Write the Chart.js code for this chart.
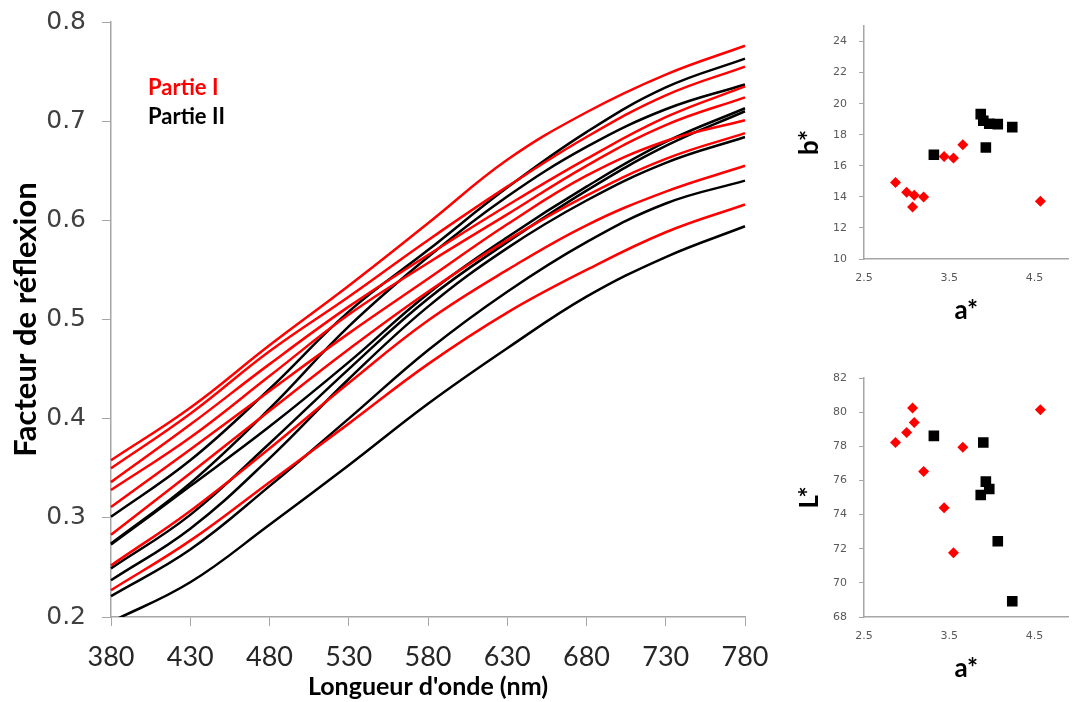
<!DOCTYPE html>
<html>
<head>
<meta charset="utf-8">
<script src="https://cdn.jsdelivr.net/npm/chart.js@4/dist/chart.umd.min.js"></script>
<style>
  html, body { margin: 0; padding: 0; background: #fff; }
  body { width: 1076px; height: 702px; position: relative; overflow: hidden; }
  canvas { position: absolute; }
  #legende { position: absolute; left: 148px; top: 72px; font: bold 22px Lato, sans-serif; line-height: 29px; }
</style>
</head>
<body>
<canvas id="spectres" width="780" height="702" style="left:0;top:0"></canvas>
<canvas id="ab" width="286" height="330" style="left:790px;top:0"></canvas>
<canvas id="aL" width="286" height="362" style="left:790px;top:340px"></canvas>
<div id="legende">
  <div style="color:#ff0000">Partie I</div>
  <div style="color:#000">Partie II</div>
</div>
<script>
// longueurs d'onde (nm)
const longueurs = [380, 430, 480, 530, 580, 630, 680, 730, 780];

// facteur de réflexion - Partie I (rouge)
const partieI_1 = [0.358, 0.411, 0.474, 0.534, 0.597, 0.661, 0.709, 0.747, 0.776];
const partieI_2 = [0.350, 0.405, 0.468, 0.523, 0.580, 0.634, 0.684, 0.726, 0.755];
const partieI_3 = [0.336, 0.394, 0.455, 0.513, 0.565, 0.615, 0.662, 0.704, 0.735];
const partieI_4 = [0.328, 0.381, 0.443, 0.505, 0.557, 0.606, 0.655, 0.696, 0.724];
const partieI_5 = [0.311, 0.369, 0.428, 0.486, 0.541, 0.596, 0.645, 0.680, 0.701];
const partieI_6 = [0.283, 0.345, 0.408, 0.470, 0.528, 0.580, 0.625, 0.662, 0.688];
const partieI_7 = [0.252, 0.307, 0.370, 0.436, 0.499, 0.550, 0.595, 0.629, 0.655];
const partieI_8 = [0.227, 0.277, 0.336, 0.395, 0.455, 0.507, 0.550, 0.588, 0.616];

// facteur de réflexion - Partie II (noir)
const partieII_1 = [0.301, 0.358, 0.430, 0.508, 0.570, 0.633, 0.689, 0.734, 0.763];
const partieII_2 = [0.274, 0.335, 0.410, 0.493, 0.563, 0.624, 0.674, 0.712, 0.737];
const partieII_3 = [0.273, 0.332, 0.392, 0.457, 0.526, 0.583, 0.634, 0.679, 0.713];
const partieII_4 = [0.249, 0.303, 0.375, 0.450, 0.521, 0.578, 0.630, 0.675, 0.710];
const partieII_5 = [0.237, 0.289, 0.360, 0.440, 0.513, 0.572, 0.620, 0.658, 0.684];
const partieII_6 = [0.221, 0.268, 0.332, 0.400, 0.469, 0.528, 0.578, 0.617, 0.640];
const partieII_7 = [0.195, 0.235, 0.293, 0.353, 0.415, 0.471, 0.523, 0.563, 0.594];

// coordonnées CIELAB
const aPartieI  = [2.87, 3.00, 3.07, 3.09, 3.20, 3.44, 3.55, 3.66, 4.57];
const bPartieI  = [14.93, 14.29, 13.35, 14.10, 13.99, 16.60, 16.50, 17.35, 13.71];
const LPartieI  = [78.22, 78.81, 80.24, 79.40, 76.52, 74.40, 71.76, 77.95, 80.14];
const aPartieII = [3.32, 3.87, 3.90, 3.93, 3.97, 4.07, 4.24];
const bPartieII = [16.71, 19.33, 18.90, 17.18, 18.71, 18.68, 18.49];
const LPartieII = [78.61, 75.15, 78.22, 75.93, 75.50, 72.44, 68.92];

const aTicks = [2.5, 3.5, 4.5];
const gris = '#a6a6a6';

const rouges = [partieI_1, partieI_2, partieI_3, partieI_4, partieI_5, partieI_6, partieI_7, partieI_8];
const noirs = [partieII_1, partieII_2, partieII_3, partieII_4, partieII_5, partieII_6, partieII_7];

function courbe(valeurs, couleur) {
  return {
    data: valeurs,
    borderColor: couleur,
    borderWidth: 2.5,
    pointRadius: 0,
    fill: false,
    tension: 0.4
  };
}

// la zone de tracé est fixée par layout.padding seulement
function fixeX(hauteur) {
  return s => { s.height = hauteur; s.paddingLeft = 0; s.paddingRight = 0; };
}
function fixeY(largeur) {
  return s => { s.width = largeur; s.paddingTop = 0; s.paddingBottom = 0; };
}

new Chart(document.getElementById('spectres'), {
  type: 'line',
  data: {
    labels: longueurs,
    datasets: [
      ...rouges.map(v => courbe(v, '#ff0000')),
      ...noirs.map(v => courbe(v, '#000000'))
    ]
  },
  options: {
    responsive: false,
    animation: false,
    layout: { padding: { top: 22, right: 35, bottom: 0, left: 0 } },
    plugins: { legend: { display: false }, tooltip: { enabled: false } },
    scales: {
      x: {
        grid: { drawOnChartArea: false, drawTicks: true, tickLength: 9, color: gris },
        border: { color: gris, width: 1.5 },
        ticks: { color: '#262626', font: { family: 'Lato', size: 27 }, padding: 15, maxRotation: 0, autoSkip: false },
        title: { display: true, text: "Longueur d'onde (nm)", color: '#000',
                 font: { family: 'Lato', size: 25, weight: 'bold' }, padding: { top: 0, bottom: 0 } },
        afterFit: fixeX(85)
      },
      y: {
        min: 0.2, max: 0.8,
        grid: { drawOnChartArea: false, drawTicks: true, tickLength: 9, color: gris },
        border: { color: gris, width: 1.5 },
        ticks: { stepSize: 0.1, color: '#404040', font: { family: 'DejaVu Sans', size: 25 }, padding: 16,
                 callback: v => v.toFixed(1) },
        title: { display: true, text: 'Facteur de réflexion', color: '#000',
                 font: { family: 'Lato', size: 31, weight: 'bold' }, padding: { top: 7, bottom: 0 } },
        afterFit: fixeY(111)
      }
    }
  }
});

function nuage(id, yI, yII, yMin, yMax, titreY, pad) {
  return new Chart(document.getElementById(id), {
    type: 'scatter',
    data: {
      datasets: [
        { data: aPartieII.map((a, i) => ({ x: a, y: yII[i] })), pointStyle: 'rect', pointRadius: 7.5,
          backgroundColor: '#000', borderColor: '#000', borderWidth: 0 },
        { data: aPartieI.map((a, i) => ({ x: a, y: yI[i] })), pointStyle: 'rectRot', pointRadius: 5.5,
          backgroundColor: '#ff0000', borderColor: '#ff0000', borderWidth: 0 }
      ]
    },
    options: {
      responsive: false,
      animation: false,
      layout: { padding: pad },
      plugins: { legend: { display: false }, tooltip: { enabled: false } },
      scales: {
        x: {
          type: 'linear', min: 2.5, max: 4.9,
          afterBuildTicks: s => { s.ticks = aTicks.map(v => ({ value: v })); },
          grid: { drawOnChartArea: false, drawTicks: false },
          border: { color: gris, width: 1.5 },
          ticks: { color: '#595959', font: { family: 'DejaVu Sans', size: 11 }, padding: 13,
                   callback: v => v.toFixed(1) },
          title: { display: true, text: 'a*', color: '#000', font: { family: 'Lato', size: 26, weight: 'bold' },
                   padding: { top: 0, bottom: 4 } },
          afterFit: fixeX(71)
        },
        y: {
          min: yMin, max: yMax,
          grid: { drawOnChartArea: false, drawTicks: true, tickLength: 5, color: gris },
          border: { color: gris, width: 1.5 },
          ticks: { stepSize: 2, includeBounds: false, color: '#595959', font: { family: 'DejaVu Sans', size: 11 }, padding: 12 },
          title: { display: true, text: titreY, color: '#000', font: { family: 'Lato', size: 26, weight: 'bold' },
                   padding: { top: 4, bottom: 0 } },
          afterFit: fixeY(74)
        }
      }
    }
  });
}

nuage('ab', bPartieI, bPartieII, 10, 25, 'b*', { top: 26, right: 0, bottom: 0, left: 0 });
nuage('aL', LPartieI, LPartieII, 68, 82, 'L*', { top: 38, right: 0, bottom: 14, left: 0 });
</script>
</body>
</html>
